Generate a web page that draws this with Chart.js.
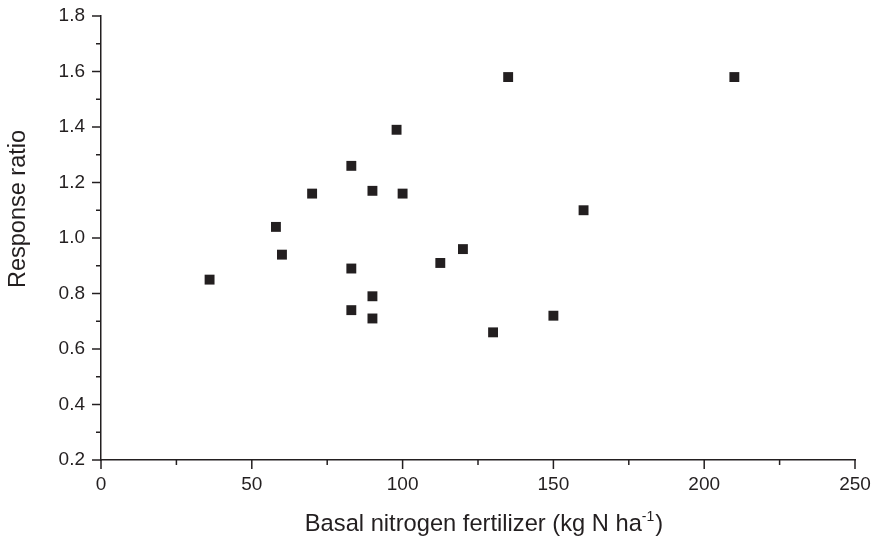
<!DOCTYPE html>
<html>
<head>
<meta charset="utf-8">
<script src="https://cdn.jsdelivr.net/npm/chart.js@4/dist/chart.umd.min.js"></script>
<style>
html,body{margin:0;padding:0;background:#fff;}
#wrap{width:874px;height:537px;}
</style>
</head>
<body>
<div id="wrap"><canvas id="c" width="874" height="537"></canvas></div>
<script>
const nitrogen = [36, 58, 60, 70, 83, 83, 83, 90, 90, 90, 98, 100, 112.5, 120, 130, 135, 150, 160, 210];
const responseRatio = [0.85, 1.04, 0.94, 1.16, 1.26, 0.89, 0.74, 1.17, 0.79, 0.71, 1.39, 1.16, 0.91, 0.96, 0.66, 1.58, 0.72, 1.10, 1.58];
const xTickValues = [0, 50, 100, 150, 200, 250];
const yTickValues = [0.2, 0.4, 0.6, 0.8, 1.0, 1.2, 1.4, 1.6, 1.8];
const xTitleMain = 'Basal nitrogen fertilizer (kg N ha';
const xTitleSup = '-1';
const xTitleEnd = ')';
const yTitle = 'Response ratio';

const ink = '#231f20';
const fontFam = '"Liberation Sans", Arial, Helvetica, sans-serif';

const points = nitrogen.map((x, i) => ({x: x, y: responseRatio[i]}));

const decorPlugin = {
  id: 'decor',
  afterDraw(chart) {
    const ctx = chart.ctx;
    const xs = chart.scales.x, ys = chart.scales.y;
    const area = chart.chartArea;
    ctx.save();
    ctx.strokeStyle = ink;
    ctx.lineWidth = 1.5;
    for (let v = 0; v <= 250; v += 25) {
      const px = xs.getPixelForValue(v);
      const major = xTickValues.includes(v);
      ctx.beginPath();
      ctx.moveTo(px, area.bottom);
      ctx.lineTo(px, area.bottom + (major ? 9 : 5));
      ctx.stroke();
    }
    for (let k = 2; k <= 18; k++) {
      const py = ys.getPixelForValue(k / 10);
      const major = k % 2 === 0;
      ctx.beginPath();
      ctx.moveTo(area.left, py);
      ctx.lineTo(area.left - (major ? 9 : 5), py);
      ctx.stroke();
    }
    // axis titles
    ctx.fillStyle = ink;
    ctx.textBaseline = 'alphabetic';
    const mainFont = '23.7px ' + fontFam;
    const supFont = '14px ' + fontFam;
    ctx.font = mainFont;
    const wMain = ctx.measureText(xTitleMain).width;
    const wEnd = ctx.measureText(xTitleEnd).width;
    ctx.font = supFont;
    const wSup = ctx.measureText(xTitleSup).width;
    const total = wMain + wSup + 1 + wEnd;
    const cx = (area.left + area.right) / 2 + 6;
    let x0 = cx - total / 2;
    const base = area.bottom + 71;
    ctx.textAlign = 'left';
    ctx.font = mainFont;
    ctx.fillText(xTitleMain, x0, base);
    ctx.font = supFont;
    ctx.fillText(xTitleSup, x0 + wMain, base - 10);
    ctx.font = mainFont;
    ctx.fillText(xTitleEnd, x0 + wMain + wSup + 1, base);

    ctx.translate(area.left - 82, (area.top + area.bottom) / 2 - 29);
    ctx.rotate(-Math.PI / 2);
    ctx.textAlign = 'center';
    ctx.textBaseline = 'middle';
    ctx.font = '23.5px ' + fontFam;
    ctx.fillText(yTitle, 0, 0);
    ctx.restore();
  }
};

new Chart(document.getElementById('c'), {
  type: 'scatter',
  data: {
    datasets: [{
      data: points,
      pointStyle: 'rect',
      pointRadius: 7,
      pointHoverRadius: 7,
      pointBackgroundColor: ink,
      pointBorderWidth: 0,
      borderColor: ink,
      showLine: false,
      clip: false
    }]
  },
  options: {
    responsive: false,
    animation: false,
    events: [],
    layout: {padding: {top: 16, right: 19, left: 0, bottom: 0}},
    plugins: {legend: {display: false}, tooltip: {enabled: false}},
    scales: {
      x: {
        type: 'linear',
        min: 0, max: 250,
        afterBuildTicks(scale) { scale.ticks = xTickValues.map(v => ({value: v})); },
        afterFit(scale) {
          scale.height = 77;
          scale.paddingLeft = 0; scale.paddingRight = 0;
          scale.paddingTop = 0; scale.paddingBottom = 0;
        },
        ticks: {
          autoSkip: false,
          maxRotation: 0,
          padding: 13,
          color: ink,
          font: {family: fontFam, size: 19},
          callback: v => String(v)
        },
        grid: {display: false, drawTicks: false},
        border: {display: true, color: ink, width: 1.5},
        title: {display: false}
      },
      y: {
        type: 'linear',
        min: 0.2, max: 1.8,
        afterBuildTicks(scale) { scale.ticks = yTickValues.map(v => ({value: v})); },
        afterFit(scale) {
          scale.width = 101;
          scale.paddingLeft = 0; scale.paddingRight = 0;
          scale.paddingTop = 0; scale.paddingBottom = 0;
        },
        ticks: {
          autoSkip: false,
          padding: 16,
          color: ink,
          font: {family: fontFam, size: 19},
          callback: v => Number(v).toFixed(1)
        },
        grid: {display: false, drawTicks: false},
        border: {display: true, color: ink, width: 1.5},
        title: {display: false}
      }
    }
  },
  plugins: [decorPlugin]
});
</script>
</body>
</html>
